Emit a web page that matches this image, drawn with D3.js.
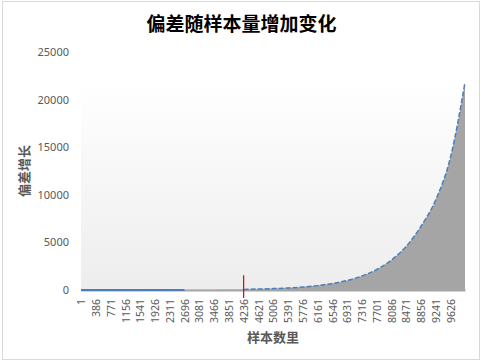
<!DOCTYPE html>
<html>
<head>
<meta charset="utf-8">
<script src="https://cdn.jsdelivr.net/npm/d3@7"></script>
<style>
  body { margin: 0; background: #fff; }
  text { font-family: "Noto Sans CJK SC", "Noto Sans", sans-serif; }
</style>
</head>
<body>
<div id="chart"></div>
<script>
const sampleSizes = [1, 386, 771, 1156, 1541, 1926, 2311, 2696, 3081, 3466, 3851, 4236,
  4621, 5006, 5391, 5776, 6161, 6546, 6931, 7316, 7701, 8086, 8471, 8856, 9241, 9626, 10000];
// deviation growth at those sample sizes
const deviation = [0, 0, 0, 0, 0, 0, 0, 12, 18, 26, 42, 65,
  100, 145, 210, 310, 460, 680, 1000, 1470, 2150, 3150, 4600, 6700, 9500, 14000, 21800];
// x tick labels (every 385 samples)
const xTickLabels = [1, 386, 771, 1156, 1541, 1926, 2311, 2696, 3081, 3466, 3851, 4236,
  4621, 5006, 5391, 5776, 6161, 6546, 6931, 7316, 7701, 8086, 8471, 8856, 9241, 9626];
const yTicks = [0, 5000, 10000, 15000, 20000, 25000];
// the short vertical bar near 4236
const errorBar = { at: 4236, low: -850, high: 1550 };

const width = 483, height = 363;
const margin = { top: 52, right: 18, bottom: 73, left: 81 };

const svg = d3.select("#chart").append("svg")
  .attr("width", width)
  .attr("height", height);

// chart frame
svg.append("rect")
  .attr("x", 2.5).attr("y", 1.5)
  .attr("width", 477).attr("height", 358)
  .attr("fill", "#fff")
  .attr("stroke", "#d9d9d9");

const x = d3.scaleLinear()
  .domain([1, 10000])
  .range([margin.left, width - margin.right]);

const y = d3.scaleLinear()
  .domain([0, 25000])
  .range([height - margin.bottom, margin.top]);

const data = sampleSizes.map((s, i) => ({ s: s, v: deviation[i] }));

// gradient background behind the series
const grad = svg.append("defs").append("linearGradient")
  .attr("id", "bg").attr("x1", 0).attr("x2", 0).attr("y1", 0).attr("y2", 1);
grad.append("stop").attr("offset", "0%").attr("stop-color", "#ffffff");
grad.append("stop").attr("offset", "100%").attr("stop-color", "#ededed");

svg.append("rect")
  .attr("x", x(1))
  .attr("y", y(d3.max(deviation)))
  .attr("width", x(10000) - x(1))
  .attr("height", y(0) - y(d3.max(deviation)))
  .attr("fill", "url(#bg)");

// grey area
const area = d3.area()
  .x(d => x(d.s))
  .y0(y(0))
  .y1(d => y(d.v))
  .curve(d3.curveMonotoneX);

svg.append("path")
  .datum(data)
  .attr("d", area)
  .attr("fill", "#a5a5a5");

// x axis (grey base strip)
const xAxis = d3.axisBottom(x).tickValues(xTickLabels).tickSize(0).tickSizeOuter(0).tickFormat(d => d);
const gx = svg.append("g")
  .attr("transform", `translate(0,${y(0)})`)
  .call(xAxis);
gx.select(".domain")
  .attr("stroke", "#a5a5a5")
  .attr("stroke-width", 2);
gx.selectAll("text")
  .attr("fill", "#595959")
  .style("font-family", "'Noto Sans', sans-serif")
  .style("font-size", "10.5px")
  .attr("text-anchor", "end")
  .attr("transform", "rotate(-90)")
  .attr("x", -9)
  .attr("y", 0)
  .attr("dy", "0.35em");

// blue line: solid along the flat start, dashed along the curve
const line = d3.line()
  .x(d => x(d.s))
  .y(d => y(d.v))
  .curve(d3.curveMonotoneX);

svg.append("path")
  .datum(data.filter(d => d.s <= 2696))
  .attr("d", line)
  .attr("fill", "none")
  .attr("stroke", "#4a7ebb")
  .attr("stroke-width", 2);

svg.append("path")
  .datum(data.filter(d => d.s >= 4236))
  .attr("d", line)
  .attr("fill", "none")
  .attr("stroke", "#4a7ebb")
  .attr("stroke-width", 1.5)
  .attr("stroke-dasharray", "5,2");

// small red bar
svg.append("line")
  .attr("x1", x(errorBar.at)).attr("x2", x(errorBar.at))
  .attr("y1", y(errorBar.low)).attr("y2", y(errorBar.high))
  .attr("stroke", "#e00000")
  .attr("stroke-width", 1.2);

// y axis
const yAxis = d3.axisLeft(y).tickValues(yTicks).tickSize(0).tickPadding(12).tickFormat(d3.format("d"));
const gy = svg.append("g")
  .attr("transform", `translate(${margin.left},0)`)
  .call(yAxis);
gy.select(".domain").remove();
gy.selectAll("text")
  .attr("fill", "#595959")
  .style("font-family", "'Noto Sans', sans-serif")
  .style("font-size", "11px");

// titles
svg.append("text")
  .attr("x", width / 2)
  .attr("y", 31)
  .attr("text-anchor", "middle")
  .attr("font-size", "19px")
  .attr("font-weight", "bold")
  .attr("fill", "#000")
  .text("偏差随样本量增加变化");

svg.append("text")
  .attr("x", (x(1) + x(10000)) / 2)
  .attr("y", 342)
  .attr("text-anchor", "middle")
  .attr("font-size", "13px")
  .attr("font-weight", "bold")
  .attr("fill", "#595959")
  .text("样本数里");

svg.append("text")
  .attr("transform", `translate(29,${(y(0) + y(25000)) / 2}) rotate(-90)`)
  .attr("text-anchor", "middle")
  .attr("font-size", "13px")
  .attr("font-weight", "bold")
  .attr("fill", "#595959")
  .text("偏差增长");
</script>
</body>
</html>
